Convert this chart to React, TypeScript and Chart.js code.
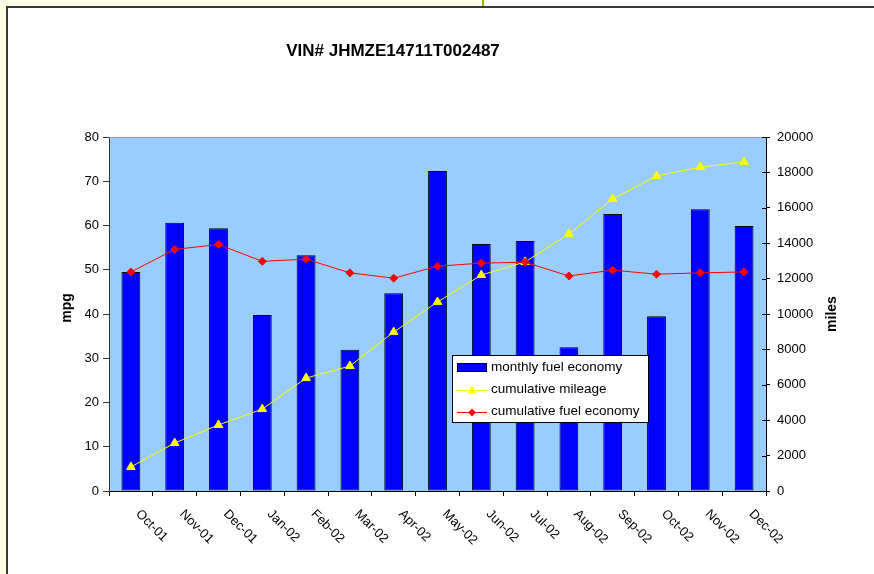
import React, { useEffect, useRef } from 'react';
import { Chart, registerables } from 'chart.js';

Chart.register(...registerables);

const categories = ['Oct-01', 'Nov-01', 'Dec-01', 'Jan-02', 'Feb-02', 'Mar-02', 'Apr-02', 'May-02', 'Jun-02', 'Jul-02', 'Aug-02', 'Sep-02', 'Oct-02', 'Nov-02', 'Dec-02'];
const monthlyFuelEconomy = [49.5, 60.6, 59.4, 39.8, 53.3, 31.9, 44.7, 72.3, 55.8, 56.5, 32.5, 62.6, 39.5, 63.7, 59.9];
const cumulativeMileage = [1360, 2710, 3730, 4630, 6380, 7060, 8980, 10680, 12200, 12940, 14520, 16500, 17800, 18300, 18590];
const cumulativeFuelEconomy = [49.5, 54.6, 55.7, 51.9, 52.4, 49.3, 48.1, 50.8, 51.5, 51.7, 48.6, 49.9, 49.0, 49.3, 49.5];
const mpgRange = [0, 80, 10];
const milesRange = [0, 20000, 2000];
const titleText = 'VIN# JHMZE14711T002487';
const leftAxisTitle = 'mpg';
const rightAxisTitle = 'miles';
const legendLabels = ['monthly fuel economy', 'cumulative mileage', 'cumulative fuel economy'];

const FONT = '"Liberation Sans", Arial, sans-serif';

const decorPlugin = {
  id: 'decor',
  beforeDraw(chart: any) {
    const ctx = chart.ctx;
    const { left, top, right, bottom } = chart.chartArea;
    ctx.save();
    ctx.fillStyle = '#ffffff';
    ctx.fillRect(0, 0, chart.width, chart.height);
    ctx.fillStyle = '#FFFFE6';
    ctx.fillRect(0, 0, 483, 6);
    ctx.fillRect(0, 0, 6, chart.height);
    ctx.fillStyle = '#80C000';
    ctx.fillRect(482, 0, 2, 6);
    ctx.fillStyle = '#383838';
    ctx.fillRect(6, 6, chart.width - 6, 2);
    ctx.fillRect(6, 6, 2, chart.height - 6);
    ctx.fillStyle = '#99CCFF';
    ctx.fillRect(left, top, right - left, bottom - top);
    ctx.restore();
  },
  afterDraw(chart: any) {
    const ctx = chart.ctx;
    const { left, top, right } = chart.chartArea;
    ctx.save();
    // top border of plot
    ctx.strokeStyle = '#999999';
    ctx.lineWidth = 1;
    ctx.beginPath();
    ctx.moveTo(left, top + 0.5);
    ctx.lineTo(right, top + 0.5);
    ctx.stroke();
    // inward ticks on right axis
    const y1 = chart.scales.y1;
    ctx.strokeStyle = '#000';
    for (let v = milesRange[0]; v <= milesRange[1]; v += milesRange[2]) {
      const py = Math.round(y1.getPixelForValue(v)) + 0.5;
      ctx.beginPath();
      ctx.moveTo(right - 4, py);
      ctx.lineTo(right, py);
      ctx.stroke();
    }
    // x labels rotated
    const xs = chart.scales.x;
    ctx.fillStyle = '#000';
    ctx.font = '13px ' + FONT;
    categories.forEach((c, i) => {
      const x = xs.getPixelForValue(i);
      ctx.save();
      ctx.translate(x + 7, 512);
      ctx.rotate(Math.PI / 4);
      ctx.textAlign = 'left';
      ctx.textBaseline = 'middle';
      ctx.fillText(c, 0, 0);
      ctx.restore();
    });
    // axis titles
    ctx.font = 'bold 14px ' + FONT;
    ctx.textAlign = 'center';
    ctx.textBaseline = 'alphabetic';
    ctx.save();
    ctx.translate(71, 308);
    ctx.rotate(-Math.PI / 2);
    ctx.fillText(leftAxisTitle, 0, 0);
    ctx.restore();
    ctx.save();
    ctx.translate(836, 314);
    ctx.rotate(-Math.PI / 2);
    ctx.fillText(rightAxisTitle, 0, 0);
    ctx.restore();
    // title
    ctx.font = 'bold 17px ' + FONT;
    ctx.textBaseline = 'middle';
    ctx.fillText(titleText, 393, 51);
    // legend
    ctx.fillStyle = '#fff';
    ctx.fillRect(453, 356, 196, 67);
    ctx.strokeStyle = '#000';
    ctx.lineWidth = 1;
    ctx.strokeRect(452.5, 355.5, 196, 67);
    ctx.fillStyle = '#0000FF';
    ctx.fillRect(457, 363, 30, 9);
    ctx.strokeRect(457.5, 363.5, 29, 8);
    // yellow line + triangle
    ctx.strokeStyle = '#FFFF00';
    ctx.beginPath();
    ctx.moveTo(457, 390.5);
    ctx.lineTo(487, 390.5);
    ctx.stroke();
    ctx.fillStyle = '#FFFF00';
    ctx.beginPath();
    ctx.moveTo(472, 386);
    ctx.lineTo(476.5, 393.5);
    ctx.lineTo(467.5, 393.5);
    ctx.closePath();
    ctx.fill();
    // red line + diamond
    ctx.strokeStyle = '#FF0000';
    ctx.beginPath();
    ctx.moveTo(457, 412.5);
    ctx.lineTo(487, 412.5);
    ctx.stroke();
    ctx.fillStyle = '#FF0000';
    ctx.beginPath();
    ctx.moveTo(472, 408.5);
    ctx.lineTo(476, 412.5);
    ctx.lineTo(472, 416.5);
    ctx.lineTo(468, 412.5);
    ctx.closePath();
    ctx.fill();
    ctx.fillStyle = '#000';
    ctx.font = '13.5px ' + FONT;
    ctx.textAlign = 'left';
    ctx.textBaseline = 'middle';
    ctx.fillText(legendLabels[0], 491, 367);
    ctx.fillText(legendLabels[1], 491, 389.5);
    ctx.fillText(legendLabels[2], 491, 411.5);
    ctx.restore();
  },
};

export default function App() {
  const ref = useRef<HTMLCanvasElement | null>(null);
  useEffect(() => {
    if (!ref.current) return;
    const tickFont = { family: FONT, size: 13 };
    const chart = new Chart(ref.current, {
      type: 'bar',
      data: {
        labels: categories,
        datasets: [
          {
            type: 'line',
            label: legendLabels[2],
            data: cumulativeFuelEconomy,
            yAxisID: 'y',
            borderColor: '#FF0000',
            backgroundColor: '#FF0000',
            borderWidth: 1,
            pointStyle: 'rectRot',
            pointRadius: 4,
            pointBorderWidth: 1,
            tension: 0,
            order: 1,
          } as any,
          {
            type: 'line',
            label: legendLabels[1],
            data: cumulativeMileage,
            yAxisID: 'y1',
            borderColor: '#FFFF00',
            backgroundColor: '#FFFF00',
            borderWidth: 1,
            pointStyle: 'triangle',
            pointRadius: 5,
            pointBorderWidth: 1,
            tension: 0,
            order: 2,
          } as any,
          {
            type: 'bar',
            label: legendLabels[0],
            data: monthlyFuelEconomy,
            yAxisID: 'y',
            backgroundColor: '#0000FF',
            borderColor: '#000000',
            borderWidth: 1,
            borderSkipped: false,
            barPercentage: 0.43,
            categoryPercentage: 1,
            order: 3,
          } as any,
        ],
      },
      options: {
        responsive: false,
        animation: false,
        layout: { padding: { left: 0, right: 0, top: 137, bottom: 0 } },
        plugins: {
          legend: { display: false },
          title: { display: false },
          tooltip: { enabled: false },
        },
        scales: {
          x: {
            offset: true,
            grid: { offset: true, drawOnChartArea: false, tickLength: 5, color: '#000' },
            border: { color: '#000' },
            ticks: { display: false },
            afterFit: (s: any) => { s.height = 83; },
          },
          y: {
            position: 'left',
            min: mpgRange[0],
            max: mpgRange[1],
            ticks: { stepSize: mpgRange[2], font: tickFont, color: '#000', padding: 4 },
            grid: { drawOnChartArea: false, tickLength: 6, color: '#333' },
            border: { color: '#333' },
            afterFit: (s: any) => { s.width = 109; },
          },
          y1: {
            position: 'right',
            min: milesRange[0],
            max: milesRange[1],
            ticks: { stepSize: milesRange[2], font: tickFont, color: '#000', padding: 7, callback: (v: any) => String(v) },
            grid: { drawOnChartArea: false, tickLength: 4, color: '#000' },
            border: { color: '#000' },
            afterFit: (s: any) => { s.width = 108; },
          },
        },
      } as any,
      plugins: [decorPlugin],
    });
    return () => chart.destroy();
  }, []);
  return (
    <div style={{ position: 'absolute', left: 0, top: 0, width: 874, height: 574 }}>
      <canvas ref={ref} width={874} height={574} style={{ display: 'block', width: 874, height: 574 }} />
    </div>
  );
}
